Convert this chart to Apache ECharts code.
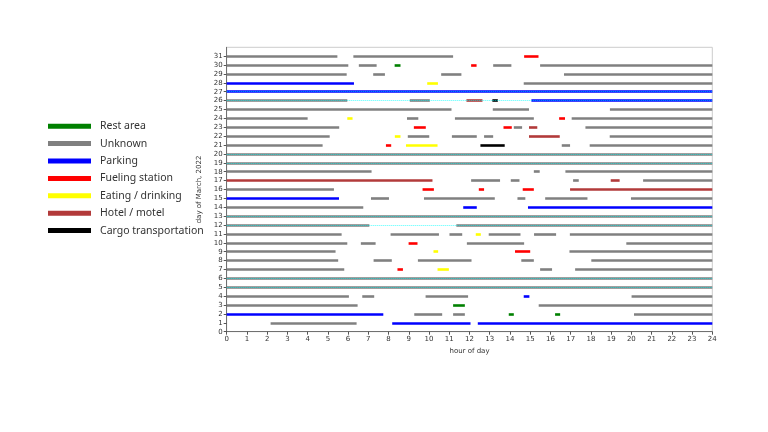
<!DOCTYPE html>
<html>
<head>
    <meta charset="utf-8">
    <title>Truck stops, March 2022</title>
    <script src="https://cdn.jsdelivr.net/npm/echarts@6/dist/echarts.min.js"></script>
    <style>
        html, body { margin: 0; padding: 0; background: #fff; }
        #main { width: 768px; height: 432px; }
    </style>
</head>
<body>
    <div id="main"></div>
<script>
    // [day, start hour, end hour]
    var restArea = [[30, 8.30, 8.59], [3, 11.19, 11.77], [2, 13.94, 14.19], [2, 16.23, 16.48]];
    var unknown = [
        [31, 0, 5.47], [31, 6.26, 11.19],
        [30, 0, 6.01], [30, 6.53, 7.41], [30, 13.17, 14.07], [30, 15.49, 24],
        [29, 0, 5.93], [29, 7.24, 7.82], [29, 10.60, 11.60], [29, 16.67, 24],
        [28, 14.68, 24],
        [26, 0, 5.96], [26, 9.05, 10.04],
        [25, 0, 11.11], [25, 13.15, 14.94], [25, 18.94, 24],
        [24, 0, 4.0], [24, 8.91, 9.47], [24, 11.28, 15.18], [24, 17.05, 24],
        [23, 0, 5.56], [23, 14.19, 14.60], [23, 17.73, 24],
        [22, 0, 5.09], [22, 8.95, 10.01], [22, 11.13, 12.36], [22, 12.72, 13.17], [22, 18.93, 24],
        [21, 0, 4.74], [21, 16.56, 16.97], [21, 17.94, 24],
        [20, 0, 24], [19, 0, 24],
        [18, 0, 7.16], [18, 15.18, 15.47], [18, 16.74, 24],
        [17, 12.08, 13.51], [17, 14.04, 14.47], [17, 17.12, 17.40], [17, 20.58, 24],
        [16, 0, 5.30],
        [15, 7.13, 8.02], [15, 9.75, 13.25], [15, 14.37, 14.76], [15, 15.74, 17.83], [15, 19.98, 24],
        [14, 0, 6.75],
        [13, 0, 24],
        [12, 0, 7.05], [12, 11.35, 24],
        [11, 0, 5.68], [11, 8.10, 10.49], [11, 11.01, 11.64], [11, 12.95, 14.52], [11, 15.19, 16.28], [11, 16.96, 24],
        [10, 0, 5.96], [10, 6.63, 7.36], [10, 11.87, 14.70], [10, 19.75, 24],
        [9, 0, 5.38], [9, 16.94, 24],
        [8, 0, 5.51], [8, 7.26, 8.16], [8, 9.45, 12.10], [8, 14.56, 15.18], [8, 18.02, 24],
        [7, 0, 5.81], [7, 15.49, 16.08], [7, 17.22, 24],
        [6, 0, 24], [5, 0, 24],
        [4, 0, 6.04], [4, 6.70, 7.29], [4, 9.83, 11.93], [4, 20.01, 24],
        [3, 0, 6.47], [3, 15.42, 24],
        [2, 9.27, 10.65], [2, 11.19, 11.77], [2, 20.13, 24],
        [1, 2.17, 6.42]
    ];
    var parking = [
        [28, 0, 6.29], [27, 0, 24], [26, 15.06, 24], [15, 0, 5.55],
        [14, 11.69, 12.36], [14, 14.89, 24], [4, 14.68, 14.96],
        [2, 0, 7.74], [1, 8.18, 12.05], [1, 12.41, 24]
    ];
    var fueling = [
        [31, 14.70, 15.41], [30, 12.08, 12.35], [24, 16.43, 16.72],
        [23, 9.25, 9.84], [23, 13.68, 14.09], [21, 7.87, 8.13],
        [16, 9.68, 10.24], [16, 12.46, 12.72], [16, 14.63, 15.18],
        [10, 8.99, 9.43], [9, 14.25, 15.0], [7, 8.44, 8.71]
    ];
    var eating = [
        [28, 9.91, 10.44], [24, 5.96, 6.22], [22, 8.31, 8.59], [21, 8.86, 10.42],
        [11, 12.31, 12.56], [9, 10.22, 10.45], [7, 10.42, 10.98]
    ];
    var hotel = [
        [26, 11.85, 12.64], [23, 14.94, 15.35], [22, 14.94, 16.46],
        [17, 0, 10.17], [17, 18.98, 19.42], [16, 16.97, 24]
    ];
    var cargo = [[26, 13.13, 13.40], [21, 12.54, 13.74]];
    var weekendDays = [5, 6, 12, 13, 19, 20, 26, 27];

    var categories = ['Rest area', 'Unknown', 'Parking', 'Fueling station', 'Eating / drinking', 'Hotel / motel', 'Cargo transportation'];
    var colors = ['#008000', '#808080', '#0000ff', '#ff0000', '#ffff00', '#b23a3a', '#000000'];
    var segments = [restArea, unknown, parking, fueling, eating, hotel, cargo];
    var dayTicks = [];
    for (var d = 0; d <= 31; d++) dayTicks.push(d);

    function toLines(list) {
        return list.map(function (s) {
            return { coords: [[s[1], s[0]], [s[2], s[0]]] };
        });
    }

    var series = categories.map(function (name, i) {
        return {
            name: name,
            type: 'lines',
            coordinateSystem: 'cartesian2d',
            silent: true,
            itemStyle: { color: colors[i] },
            lineStyle: { color: colors[i], width: 2.6, opacity: 1, cap: 'butt' },
            data: toLines(segments[i])
        };
    });
    // weekend marker, thin dotted cyan over the whole day
    series.push({
        name: 'weekend',
        type: 'lines',
        coordinateSystem: 'cartesian2d',
        silent: true,
        lineStyle: { color: '#00ffff', width: 1, opacity: 0.7, type: [1, 1] },
        data: weekendDays.map(function (d) { return { coords: [[0, d], [24, d]] }; })
    });

    var myChart = echarts.init(document.getElementById('main'));
    myChart.setOption({
        animation: false,
        legend: {
            data: categories.map(function (c, i) {
                return { name: c, icon: 'path://M0,0L41,0L41,3L0,3Z', itemStyle: { color: colors[i] }, lineStyle: { width: 0 } };
            }),
            orient: 'vertical',
            left: 48,
            top: 120,
            padding: 0,
            itemWidth: 41,
            itemHeight: 3,
            itemGap: 5,
            selectedMode: false,
            textStyle: { fontFamily: 'Noto Sans', fontSize: 10.5, color: '#333', lineHeight: 12.4, padding: [0, 0, 0, 5] }
        },
        grid: {
            left: 226.7, right: 55.7, top: 47.3, bottom: 100.3,
            show: true, borderColor: '#cccccc', borderWidth: 1
        },
        xAxis: {
            type: 'value', min: 0, max: 24, interval: 1,
            name: 'hour of day', nameLocation: 'middle', nameGap: 15,
            nameTextStyle: { fontFamily: 'DejaVu Sans', fontSize: 7, color: '#333' },
            axisLine: { lineStyle: { color: '#555', width: 0.8 } },
            axisTick: { length: 3, lineStyle: { color: '#555' } },
            axisLabel: { fontFamily: 'DejaVu Sans', fontSize: 7, color: '#333', margin: 4 },
            splitLine: { show: false }
        },
        yAxis: {
            type: 'value', min: 0, max: 32, interval: 1,
            name: 'day of March, 2022', nameLocation: 'middle', nameGap: 19, nameRotate: 90,
            nameTextStyle: { fontFamily: 'DejaVu Sans', fontSize: 7, color: '#333' },
            axisLine: { show: true, lineStyle: { color: '#555', width: 0.8 } },
            axisTick: { show: true, length: 3, customValues: dayTicks, lineStyle: { color: '#555' } },
            axisLabel: { fontFamily: 'DejaVu Sans', fontSize: 7, color: '#333', margin: 4, customValues: dayTicks },
            splitLine: { show: false }
        },
        series: series
    });
</script>
</body>
</html>
